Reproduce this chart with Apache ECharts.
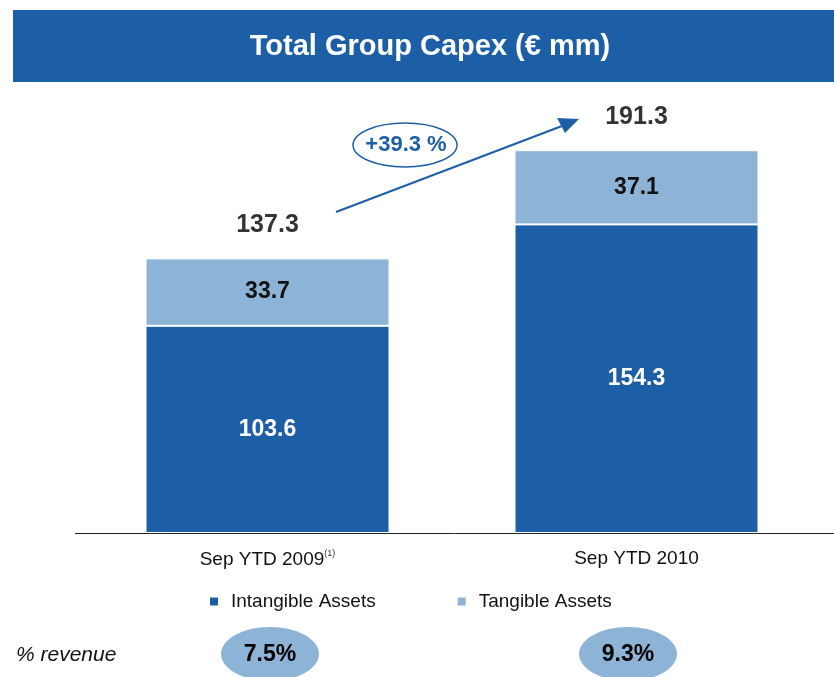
<!DOCTYPE html>
<html>
<head>
<meta charset="utf-8">
<script src="https://cdn.jsdelivr.net/npm/echarts@6/dist/echarts.min.js"></script>
<style>
  html, body { margin: 0; padding: 0; background: #fff; }
  #grafico { width: 834px; height: 677px; }
</style>
</head>
<body>
<div id="grafico"></div>
<script>
const categorias = ['Sep YTD 2009', 'Sep YTD 2010']
const intangibles = [103.6, 154.3]
const tangibles = [33.7, 37.1]
const totales = [137.3, 191.3]
const porcentajeIngresos = ['7.5%', '9.3%']
const crecimiento = '+39.3 %'

const azulOscuro = '#1d5fa7'
const azulClaro = '#8db3d6'
const fuente = '"Liberation Sans", Arial, sans-serif'

const miGrafico = echarts.init(document.getElementById('grafico'))

const opciones = {
  animation: false,
  textStyle: { fontFamily: fuente },
  grid: { left: 83, width: 738, top: 133, bottom: 144 },
  legend: {
    data: [
      { name: 'Intangible Assets', itemStyle: { color: azulOscuro } },
      { name: 'Tangible Assets', itemStyle: { color: azulClaro } }
    ],
    left: 203,
    top: 587,
    icon: 'rect',
    itemWidth: 10,
    itemHeight: 10,
    itemGap: 80,
    textStyle: { fontSize: 19, color: '#111', fontFamily: fuente, padding: [0, 0, 0, 7] }
  },
  xAxis: {
    type: 'category',
    data: categorias,
    axisLine: { show: false },
    axisTick: { show: false },
    axisLabel: {
      margin: 16,
      formatter: (v, i) => i === 0 ? '{a|' + v + '}{s|(1)}' : '{a|' + v + '}',
      rich: {
        a: { fontSize: 19, color: '#111', fontFamily: fuente },
        s: { fontSize: 9, color: '#333', fontFamily: fuente, verticalAlign: 'top', padding: [0, 0, 12, 0] }
      }
    }
  },
  yAxis: {
    type: 'value',
    min: 0,
    max: 200,
    show: false,
    splitLine: { show: false }
  },
  series: [
    {
      name: 'Intangible Assets',
      type: 'bar',
      stack: 'capex',
      barWidth: 244,
      data: intangibles,
      itemStyle: { color: azulOscuro, borderColor: '#fff', borderWidth: 1 },
      label: {
        show: true,
        position: 'inside',
        color: '#fff',
        fontSize: 23,
        fontWeight: 'bold',
        fontFamily: fuente
      }
    },
    {
      name: 'Tangible Assets',
      type: 'bar',
      stack: 'capex',
      barWidth: 244,
      data: tangibles,
      itemStyle: { color: azulClaro, borderColor: '#fff', borderWidth: 1 },
      label: {
        show: true,
        position: 'inside',
        color: '#111',
        fontSize: 23,
        fontWeight: 'bold',
        fontFamily: fuente
      }
    },
    {
      name: 'Total',
      type: 'scatter',
      data: totales,
      symbolSize: 0,
      silent: true,
      label: {
        show: true,
        position: 'top',
        distance: 21,
        color: '#000',
        fontSize: 25,
        fontWeight: 'bold',
        fontFamily: fuente
      }
    }
  ],
  graphic: [
    {
      type: 'rect',
      shape: { x: 13, y: 10, width: 821, height: 72 },
      style: { fill: azulOscuro }
    },
    {
      type: 'text',
      x: 430,
      y: 47,
      style: {
        text: 'Total Group Capex (€ mm)',
        fill: '#fff',
        font: 'bold 29px ' + fuente,
        textAlign: 'center',
        textVerticalAlign: 'middle'
      }
    },
    {
      type: 'line',
      shape: { x1: 75, y1: 533.5, x2: 834, y2: 533.5 },
      style: { stroke: '#222', lineWidth: 1 }
    },
    {
      type: 'line',
      shape: { x1: 336, y1: 212, x2: 562, y2: 126 },
      style: { stroke: azulOscuro, lineWidth: 2 }
    },
    {
      type: 'polygon',
      shape: { points: [[579, 119], [557, 118], [565, 133]] },
      style: { fill: azulOscuro }
    },
    {
      type: 'ellipse',
      shape: { cx: 405, cy: 145, rx: 52, ry: 22 },
      style: { fill: '#fff', stroke: azulOscuro, lineWidth: 1.5 }
    },
    {
      type: 'text',
      x: 406,
      y: 145,
      style: {
        text: crecimiento,
        fill: azulOscuro,
        font: 'bold 22px ' + fuente,
        textAlign: 'center',
        textVerticalAlign: 'middle'
      }
    },
    {
      type: 'text',
      x: 16,
      y: 655,
      style: {
        text: '% revenue',
        fill: '#111',
        font: 'italic 21px ' + fuente,
        textVerticalAlign: 'middle'
      }
    },
    ...porcentajeIngresos.flatMap((p, i) => {
      const cx = i === 0 ? 270 : 628
      return [
        {
          type: 'ellipse',
          shape: { cx: cx, cy: 654, rx: 49, ry: 27 },
          style: { fill: azulClaro }
        },
        {
          type: 'text',
          x: cx,
          y: 655,
          style: {
            text: p,
            fill: '#000',
            font: 'bold 23px ' + fuente,
            textAlign: 'center',
            textVerticalAlign: 'middle'
          }
        }
      ]
    })
  ]
}

miGrafico.setOption(opciones)
</script>
</body>
</html>
